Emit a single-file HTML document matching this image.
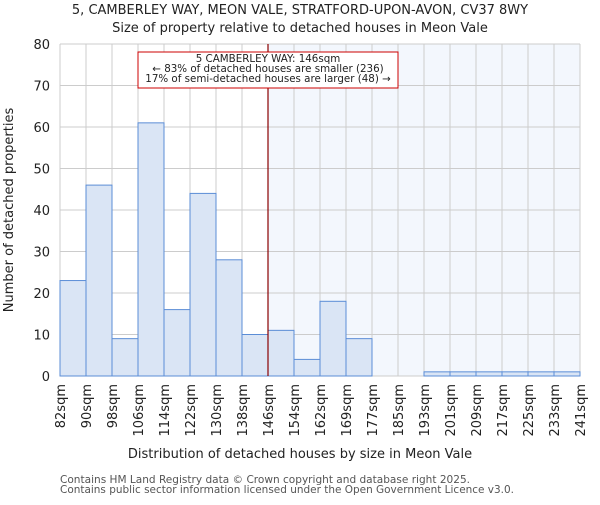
<!DOCTYPE html>
<html><head><meta charset="utf-8"><style>
body{margin:0;background:#fff;width:600px;height:500px;overflow:hidden}
svg text{font-family:"DejaVu Sans","Liberation Sans",sans-serif}
</style></head><body>
<svg id="chart" width="600" height="500" xmlns="http://www.w3.org/2000/svg">
<text x="300" y="14" text-anchor="middle" font-size="13" fill="#222">5, CAMBERLEY WAY, MEON VALE, STRATFORD-UPON-AVON, CV37 8WY</text>
<text x="300" y="32" text-anchor="middle" font-size="13" fill="#222">Size of property relative to detached houses in Meon Vale</text>
<g id="plot"></g>
<text x="300" y="458" text-anchor="middle" font-size="13" fill="#222">Distribution of detached houses by size in Meon Vale</text>
<text transform="translate(13,210) rotate(-90)" text-anchor="middle" font-size="13" fill="#222">Number of detached properties</text>
<text x="60" y="483" font-size="11" fill="#555" textLength="410" lengthAdjust="spacingAndGlyphs">Contains HM Land Registry data © Crown copyright and database right 2025.</text>
<text x="60" y="493" font-size="11" fill="#555" textLength="454" lengthAdjust="spacingAndGlyphs">Contains public sector information licensed under the Open Government Licence v3.0.</text>
</svg>
<script>
const binLabels=["82sqm","90sqm","98sqm","106sqm","114sqm","122sqm","130sqm","138sqm","146sqm","154sqm","162sqm","169sqm","177sqm","185sqm","193sqm","201sqm","209sqm","217sqm","225sqm","233sqm","241sqm"];
const counts=[23,46,9,61,16,44,28,10,11,4,18,9,0,0,1,1,1,1,1,1];
const yTicks=[0,10,20,30,40,50,60,70,80];
const markerIndex=8;
const NS="http://www.w3.org/2000/svg";
const X0=60,X1=580,Y0=376,Y1=44,YMAX=80;
const bw=(X1-X0)/counts.length;
const xs=i=>X0+i*bw;
const ys=v=>Y0-(v/YMAX)*(Y0-Y1);
const g=document.getElementById('plot');
function mk(t,a){const e=document.createElementNS(NS,t);for(const k in a)e.setAttribute(k,a[k]);g.appendChild(e);return e;}
let e=mk('rect',{x:xs(markerIndex),y:Y1,width:X1-xs(markerIndex),height:Y0-Y1,fill:'#eef3fc',opacity:0.7});


yTicks.forEach(v=>{
 let l=mk('line',{x1:X0,x2:X1,y1:ys(v),y2:ys(v),stroke:'#ccc','stroke-width':1});
 
 
 let t=mk('text',{x:X0-10,y:ys(v)+5,'text-anchor':'end','font-size':13,fill:'#222'});
 t.textContent=v;
 
 
});
binLabels.forEach((s,i)=>{
 let l=mk('line',{x1:xs(i),x2:xs(i),y1:Y1,y2:Y0,stroke:'#ccc','stroke-width':1});
 
 
 let t=mk('text',{transform:`translate(${xs(i)+5},${Y0+8}) rotate(-90)`,'text-anchor':'end','font-size':13,fill:'#222'});
 t.textContent=s;
 
 
});
counts.forEach((v,i)=>{
 let r=mk('rect',{x:xs(i),y:ys(v),width:bw,height:Y0-ys(v),fill:'#dae5f5',stroke:'#5b8dd6','stroke-width':1});
 
 
});
e=mk('line',{x1:xs(markerIndex),x2:xs(markerIndex),y1:Y1,y2:Y0,stroke:'#8b0000','stroke-width':1.2});


e=mk('rect',{x:138,y:52,width:260,height:36,fill:'#fff',stroke:'#c00','stroke-width':1});


["5 CAMBERLEY WAY: 146sqm","← 83% of detached houses are smaller (236)","17% of semi-detached houses are larger (48) →"].forEach((s,k)=>{
 let t=mk('text',{x:268,y:62+k*10,'text-anchor':'middle','font-size':10.3,fill:'#222'});
 t.textContent=s;
 
 
});
</script>
</body></html>
